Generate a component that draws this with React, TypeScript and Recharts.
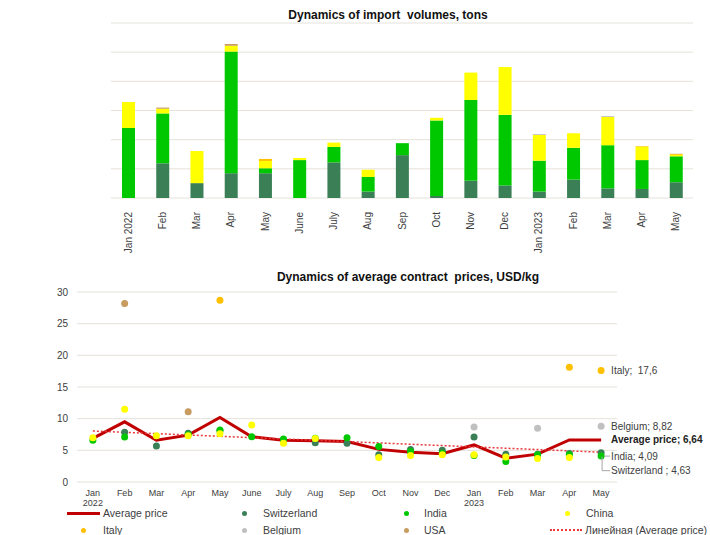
import {
  Bar,
  BarChart,
  CartesianGrid,
  ComposedChart,
  LabelList,
  Line,
  XAxis,
  YAxis,
} from "recharts";

const FONT = "'Liberation Sans', Arial, sans-serif";
const GRID = "#e6e2da";
const TEXT = "#404040";

// shared months (Jan 2022 .. May 2023)
const monthKeys = [
  "2022-01", "2022-02", "2022-03", "2022-04", "2022-05", "2022-06", "2022-07", "2022-08", "2022-09",
  "2022-10", "2022-11", "2022-12", "2023-01", "2023-02", "2023-03", "2023-04", "2023-05",
];
const volumeLabels = [
  "Jan 2022", "Feb", "Mar", "Apr", "May", "June", "July", "Aug", "Sep",
  "Oct", "Nov", "Dec", "Jan 2023", "Feb", "Mar", "Apr", "May",
];
const priceLabels = [
  "Jan", "Feb", "Mar", "Apr", "May", "June", "July", "Aug", "Sep",
  "Oct", "Nov", "Dec", "Jan", "Feb", "Mar", "Apr", "May",
];
const priceYears = ["2022", "", "", "", "", "", "", "", "", "", "", "", "2023", "", "", "", ""];

// import volumes, tons (stacked)
const swissVol = [0, 119, 51, 85, 85, 0, 122, 22, 147, 7, 59, 43, 22, 63, 33, 31, 54];
const indiaVol = [240, 171, 0, 417, 17, 130, 53, 50, 41, 259, 277, 242, 106, 109, 148, 99, 89];
const chinaVol = [89, 16, 110, 20, 25, 7, 15, 25, 0, 9, 94, 164, 88, 50, 97, 46, 5];
const italyVol = [0, 0, 0, 0, 7, 0, 0, 0, 0, 0, 0, 0, 0, 0, 0, 2, 3];
const belgiumVol = [0, 0, 0, 0, 0, 0, 0, 0, 0, 0, 0, 0, 3, 0, 3, 0, 1];
const usaVol = [0, 4, 0, 6, 0, 0, 0, 0, 0, 0, 0, 0, 0, 0, 0, 0, 0];
const volumeTicks = [0, 100, 200, 300, 400, 500, 600];

// average contract prices, USD/kg
const avgPrice = [6.9, 9.5, 6.6, 7.4, 10.2, 7.15, 6.6, 6.5, 6.4, 5.15, 4.7, 4.45, 5.85, 3.75, 4.4, 6.64, 6.64];
const trendPrice = [8.05, null, null, null, null, null, null, null, null, null, null, null, null, null, null, null, 4.7];
const swissPrice = [null, 7.85, 5.7, 7.7, 8.1, null, 6.65, 6.2, 6.1, 4.3, 5.15, 5.0, 7.1, 4.4, 4.4, 4.5, 4.63];
const indiaPrice = [6.6, 7.1, null, 7.45, 8.2, 7.15, 6.8, 6.9, 7.0, 5.6, 4.8, 4.55, 4.2, 3.25, 4.3, 4.3, 4.09];
const chinaPrice = [7.0, 11.5, 7.3, 7.3, 7.6, 9.0, 6.1, 6.85, null, 3.85, 4.2, 4.3, 4.3, 3.95, 3.7, 3.85, null];
const italyPrice = [null, null, null, null, 28.7, null, null, null, null, null, null, null, null, null, null, 18.1, 17.6];
const belgiumPrice = [null, null, null, null, null, null, null, null, null, null, null, null, 8.7, null, 8.5, null, 8.82];
const usaPrice = [null, 28.2, null, 11.1, null, null, null, null, null, null, null, null, null, null, null, null, null];
const priceTicks = [0, 5, 10, 15, 20, 25, 30];

const colors = {
  avg: "#c00000",
  trend: "#e8383a",
  swiss: "#3b7f57",
  india: "#00c800",
  china: "#ffff00",
  italy: "#ffc000",
  belgium: "#c0c0c0",
  usa: "#c89b5e",
};

const volumeRows = monthKeys.map((key, i) => ({
  key,
  swiss: swissVol[i],
  india: indiaVol[i],
  china: chinaVol[i],
  italy: italyVol[i],
  belgium: belgiumVol[i],
  usa: usaVol[i],
}));

const priceRows = monthKeys.map((key, i) => ({
  key,
  avg: avgPrice[i],
  trend: trendPrice[i],
  swiss: swissPrice[i],
  india: indiaPrice[i],
  china: chinaPrice[i],
  italy: italyPrice[i],
  belgium: belgiumPrice[i],
  usa: usaPrice[i],
}));

const lastIndex = monthKeys.length - 1;

function VolumeTick({ x, y, index }: any) {
  return (
    <g transform={`translate(${x},${y + 6})`}>
      <text
        transform="rotate(-90)"
        textAnchor="end"
        dominantBaseline="central"
        fontSize={10}
        fill={TEXT}
        fontFamily={FONT}
      >
        {volumeLabels[index]}
      </text>
    </g>
  );
}

function PriceTick({ x, y, index }: any) {
  return (
    <g fontFamily={FONT} fontSize={9} fill={TEXT}>
      <text x={x} y={y + 13.5} textAnchor="middle">
        {priceLabels[index]}
      </text>
      {priceYears[index] && (
        <text x={x} y={y + 23.5} textAnchor="middle">
          {priceYears[index]}
        </text>
      )}
    </g>
  );
}

function endLabel(text: string, opts: { bold?: boolean; leader?: "short" | "down" } = {}) {
  return (props: any) => {
    const { x, y, index } = props;
    if (index !== lastIndex || x == null || y == null) return null;
    const ty = opts.leader === "down" ? y + 18 : y;
    return (
      <g>
        {opts.leader === "short" && <line x1={x + 3} y1={y} x2={x + 9} y2={y} stroke="#a6a6a6" />}
        {opts.leader === "down" && (
          <polyline
            points={`${x + 1},${y + 4} ${x + 1},${ty} ${x + 9},${ty}`}
            fill="none"
            stroke="#a6a6a6"
          />
        )}
        <text
          x={x + 10}
          y={ty}
          dominantBaseline="central"
          fontSize={10}
          fontWeight={opts.bold ? "bold" : "normal"}
          fill={opts.bold ? "#222" : TEXT}
          fontFamily={FONT}
          style={{ whiteSpace: "pre" }}
        >
          {text}
        </text>
      </g>
    );
  };
}

const pointSeries = [
  { key: "swiss", color: colors.swiss, label: endLabel("Switzerland ; 4,63", { leader: "down" }) },
  { key: "india", color: colors.india, label: endLabel("India; 4,09", { leader: "short" }) },
  { key: "china", color: colors.china, label: null },
  { key: "italy", color: colors.italy, label: endLabel("Italy;  17,6") },
  { key: "belgium", color: colors.belgium, label: endLabel("Belgium; 8,82") },
  { key: "usa", color: colors.usa, label: null },
];

const legendItems = [
  { name: "Average price", kind: "line", color: colors.avg, sx: 67, tx: 103, y: 513 },
  { name: "Switzerland", kind: "dot", color: colors.swiss, sx: 244, tx: 263, y: 513 },
  { name: "India", kind: "dot", color: colors.india, sx: 406, tx: 424, y: 513 },
  { name: "China", kind: "dot", color: colors.china, sx: 567, tx: 586, y: 513 },
  { name: "Italy", kind: "dot", color: colors.italy, sx: 83, tx: 103, y: 530 },
  { name: "Belgium", kind: "dot", color: colors.belgium, sx: 244, tx: 263, y: 530 },
  { name: "USA", kind: "dot", color: colors.usa, sx: 406, tx: 424, y: 530 },
  { name: "Линейная (Average price)", kind: "dash", color: colors.trend, sx: 550, tx: 585, y: 530 },
];

function LegendRow() {
  return (
    <>
      {legendItems.map((item) => (
        <div key={item.name}>
          {item.kind === "line" && (
            <div style={{ position: "absolute", left: item.sx, top: item.y - 1.5, width: 33, height: 3, background: item.color }} />
          )}
          {item.kind === "dash" && (
            <div style={{ position: "absolute", left: item.sx, top: item.y - 1, width: 32, borderTop: `2px dotted ${item.color}` }} />
          )}
          {item.kind === "dot" && (
            <div
              style={{
                position: "absolute",
                left: item.sx - 2.5,
                top: item.y - 2.5,
                width: 5,
                height: 5,
                borderRadius: "50%",
                background: item.color,
              }}
            />
          )}
          <div
            style={{
              position: "absolute",
              left: item.tx,
              top: item.y - 7,
              lineHeight: "14px",
              fontSize: 10.5,
              color: TEXT,
              whiteSpace: "nowrap",
            }}
          >
            {item.name}
          </div>
        </div>
      ))}
    </>
  );
}

export default function App() {
  return (
    <div
      style={{
        position: "absolute",
        left: 0,
        top: 0,
        width: 710,
        height: 535,
        background: "#fff",
        fontFamily: FONT,
        overflow: "hidden",
      }}
    >
      <div
        style={{
          position: "absolute",
          left: 238,
          width: 300,
          top: 8,
          textAlign: "center",
          fontSize: 12,
          fontWeight: "bold",
          color: "#111",
          whiteSpace: "pre",
          lineHeight: "14px",
        }}
      >
        {"Dynamics of import  volumes, tons"}
      </div>
      <div style={{ position: "absolute", left: 0, top: 0 }}>
        <BarChart
          width={710}
          height={255}
          data={volumeRows}
          barSize={13}
          margin={{ top: 23, right: 17, left: 111, bottom: 0 }}
        >
          <CartesianGrid vertical={false} stroke={GRID} />
          <YAxis hide domain={[0, 600]} ticks={volumeTicks} />
          <XAxis dataKey="key" height={57} axisLine={false} tickLine={false} interval={0} tick={<VolumeTick />} />
          <Bar dataKey="swiss" stackId="v" fill={colors.swiss} isAnimationActive={false} />
          <Bar dataKey="india" stackId="v" fill={colors.india} isAnimationActive={false} />
          <Bar dataKey="china" stackId="v" fill={colors.china} isAnimationActive={false} />
          <Bar dataKey="italy" stackId="v" fill={colors.italy} isAnimationActive={false} />
          <Bar dataKey="belgium" stackId="v" fill={colors.belgium} isAnimationActive={false} />
          <Bar dataKey="usa" stackId="v" fill={colors.usa} isAnimationActive={false} />
        </BarChart>
      </div>

      <div
        style={{
          position: "absolute",
          left: 238,
          width: 340,
          top: 270,
          textAlign: "center",
          fontSize: 12,
          fontWeight: "bold",
          color: "#111",
          whiteSpace: "pre",
          lineHeight: "14px",
        }}
      >
        {"Dynamics of average contract  prices, USD/kg"}
      </div>
      <div style={{ position: "absolute", left: 0, top: 262 }}>
        <ComposedChart
          width={710}
          height={273}
          data={priceRows}
          margin={{ top: 30, right: 93, left: 0, bottom: 0 }}
        >
          <CartesianGrid vertical={false} stroke={GRID} />
          <YAxis
            width={77}
            domain={[0, 30]}
            ticks={priceTicks}
            axisLine={false}
            tickLine={false}
            tickSize={0}
            tickMargin={9}
            tick={{ fontSize: 10, fill: TEXT, fontFamily: FONT }}
          />
          <XAxis
            dataKey="key"
            scale="band"
            height={53}
            axisLine={false}
            tickLine={false}
            tickSize={0}
            tickMargin={0}
            interval={0}
            tick={<PriceTick />}
          />
          <Line
            dataKey="avg"
            stroke={colors.avg}
            strokeWidth={3}
            dot={false}
            isAnimationActive={false}
          >
            <LabelList dataKey="avg" content={endLabel("Average price; 6,64", { bold: true })} />
          </Line>
          <Line
            dataKey="trend"
            stroke={colors.trend}
            strokeWidth={1.5}
            strokeDasharray="2 2"
            dot={false}
            connectNulls
            isAnimationActive={false}
          />
          {pointSeries.map((s) => (
            <Line
              key={s.key}
              dataKey={s.key}
              stroke="none"
              dot={{ r: 3.5, fill: s.color, stroke: "none" }}
              activeDot={false}
              isAnimationActive={false}
            >
              {s.label && <LabelList dataKey={s.key} content={s.label} />}
            </Line>
          ))}
        </ComposedChart>
      </div>
      <LegendRow />
    </div>
  );
}
